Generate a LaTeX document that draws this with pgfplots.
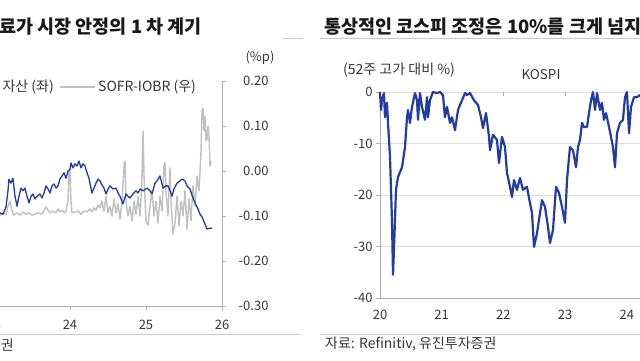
\documentclass[border=0pt]{standalone}
\usepackage{fontspec}
\usepackage{pgfplots}
\pgfplotsset{compat=1.18}
\setmainfont{Noto Sans CJK KR}
\definecolor{kblue}{RGB}{35,60,160}
\definecolor{lgray}{RGB}{192,192,192}
\definecolor{axgray}{RGB}{175,175,175}
\definecolor{gridgray}{RGB}{222,222,222}
\definecolor{txt}{RGB}{55,55,55}
\definecolor{sepgray}{RGB}{200,200,200}

\begin{document}
\begin{tikzpicture}[x=1pt,y=1pt]
\useasboundingbox (0,0) rectangle (640,360);
\clip (0,0) rectangle (640,360);
\fill[white] (0,0) rectangle (640,360);

% ---------------- left chart ----------------
\begin{axis}[
  at={(-44pt,54pt)}, anchor=south west,
  scale only axis, width=266pt, height=225pt,
  xmin=22.5, xmax=26, ymin=-0.3, ymax=0.2,
  clip=false,
  axis x line*=bottom, axis y line*=right,
  axis line style={axgray, line width=0.8pt},
  tick style={axgray, line width=0.8pt},
  tick align=outside, major tick length=4pt,
  xtick={23,24,25,26},
  ytick={-0.3,-0.2,-0.1,0,0.1,0.2},
  yticklabels={-0.30,-0.20,-0.10,0.00,0.10,0.20},
  /pgf/number format/assume math mode=true,
  ticklabel style={font=\fontsize{13}{15}\selectfont, text=txt},
  yticklabel style={anchor=east, xshift=46pt},
  xticklabel style={yshift=-7pt},
]
\addplot[lgray, line width=1.4pt, line join=round] coordinates {
(22.947,-0.096) (23.013,-0.093) (23.079,-0.098) (23.118,-0.093) (23.158,-0.096)
(23.184,-0.078) (23.211,-0.067) (23.237,-0.089) (23.263,-0.098) (23.303,-0.093)
(23.342,-0.098) (23.382,-0.091) (23.421,-0.096) (23.461,-0.093) (23.500,-0.098)
(23.540,-0.096) (23.579,-0.093) (23.618,-0.096) (23.658,-0.089) (23.684,-0.080)
(23.711,-0.087) (23.737,-0.093) (23.776,-0.089) (23.816,-0.093) (23.842,-0.084)
(23.868,-0.091) (23.895,-0.087) (23.921,-0.093) (23.947,-0.089) (23.974,-0.067)
(23.987,0.000) (24.000,0.004) (24.013,-0.067) (24.026,-0.093) (24.066,-0.091)
(24.105,-0.089) (24.145,-0.096) (24.184,-0.089) (24.224,-0.091) (24.263,-0.084)
(24.289,-0.091) (24.316,-0.082) (24.342,-0.087) (24.368,-0.076) (24.395,-0.082)
(24.421,-0.067) (24.447,-0.089) (24.474,-0.056) (24.500,-0.093) (24.526,-0.078)
(24.553,-0.100) (24.579,-0.062) (24.605,-0.093) (24.632,-0.073) (24.658,-0.107)
(24.684,-0.067) (24.711,0.011) (24.724,0.022) (24.737,-0.067) (24.763,-0.100)
(24.789,-0.078) (24.816,-0.111) (24.842,-0.067) (24.868,-0.096) (24.895,-0.056)
(24.921,-0.100) (24.947,-0.022) (24.961,0.089) (24.974,-0.011) (25.000,-0.111)
(25.026,-0.120) (25.053,-0.078) (25.079,-0.044) (25.105,-0.100) (25.132,-0.067)
(25.158,-0.116) (25.184,-0.056) (25.211,-0.089) (25.237,0.011) (25.250,0.018)
(25.263,-0.044) (25.289,-0.100) (25.316,0.007) (25.329,-0.067) (25.355,-0.140)
(25.382,-0.116) (25.408,-0.056) (25.434,-0.122) (25.461,-0.067) (25.487,-0.100)
(25.513,-0.044) (25.540,-0.129) (25.566,-0.062) (25.592,-0.111) (25.618,-0.033)
(25.645,-0.078) (25.671,-0.011) (25.697,-0.044) (25.711,0.000) (25.724,0.044)
(25.737,0.133) (25.750,0.140) (25.763,0.089) (25.776,0.122) (25.790,0.067)
(25.803,0.071) (25.816,0.100) (25.829,0.078) (25.842,0.011) (25.855,0.022)
};
\addplot[kblue, line width=1.3pt, line join=round] coordinates {
(22.947,-0.100) (23.079,-0.093) (23.118,-0.096) (23.158,-0.080) (23.184,-0.044)
(23.197,-0.018) (23.224,-0.027) (23.250,-0.016) (23.276,-0.056) (23.303,-0.078)
(23.329,-0.056) (23.355,-0.038) (23.382,-0.044) (23.408,-0.038) (23.434,-0.056)
(23.461,-0.071) (23.487,-0.056) (23.513,-0.051) (23.540,-0.062) (23.566,-0.056)
(23.605,-0.051) (23.632,-0.060) (23.658,-0.049) (23.684,-0.033) (23.711,-0.040)
(23.737,-0.049) (23.763,-0.033) (23.790,-0.029) (23.816,-0.038) (23.842,-0.033)
(23.868,-0.018) (23.895,-0.011) (23.921,-0.004) (23.947,-0.016) (23.974,0.000)
(24.000,0.004) (24.013,0.018) (24.039,0.007) (24.066,0.016) (24.092,0.011)
(24.118,0.022) (24.145,0.007) (24.171,0.016) (24.197,0.011) (24.224,-0.004)
(24.250,-0.016) (24.263,-0.027) (24.289,-0.049) (24.316,-0.038) (24.342,-0.027)
(24.368,-0.018) (24.395,-0.022) (24.421,-0.031) (24.447,-0.038) (24.474,-0.051)
(24.500,-0.040) (24.526,-0.033) (24.566,-0.040) (24.605,-0.038) (24.632,-0.049)
(24.658,-0.056) (24.697,-0.073) (24.737,-0.051) (24.763,-0.056) (24.789,-0.060)
(24.829,-0.051) (24.868,-0.044) (24.895,-0.049) (24.921,-0.040) (24.961,-0.044)
(25.013,-0.038) (25.053,-0.044) (25.079,-0.051) (25.118,-0.027) (25.145,-0.022)
(25.184,-0.011) (25.224,-0.038) (25.263,-0.033) (25.289,-0.033) (25.316,-0.044)
(25.342,-0.056) (25.368,-0.040) (25.408,-0.027) (25.447,-0.022) (25.474,-0.018)
(25.513,-0.022) (25.540,-0.033) (25.579,-0.040) (25.618,-0.060) (25.645,-0.071)
(25.684,-0.084) (25.711,-0.096) (25.737,-0.102) (25.776,-0.118) (25.803,-0.129)
(25.842,-0.127) (25.868,-0.127)
};
\end{axis}

% ---------------- right chart ----------------
\begin{axis}[
  at={(380pt,62pt)}, anchor=south west,
  scale only axis, width=308.5pt, height=206pt,
  xmin=20, xmax=25, ymin=-40, ymax=0,
  clip=false,
  axis x line*=bottom, axis y line*=left,
  axis line style={axgray, line width=0.8pt},
  ymajorgrids, grid style={gridgray, line width=0.8pt},
  ytick={-40,-30,-20,-10,0},
  xtick={20,21,22,23,24},
  ytick style={axgray, line width=0.8pt},
  xtick style={draw=none},
  tick align=outside, major tick length=4pt,
  /pgf/number format/assume math mode=true,
  ticklabel style={font=\fontsize{13}{15}\selectfont, text=txt},
  xticklabel style={yshift=-5pt},
]
\pgfplotsinvokeforeach{21,22,23,24}{
  \draw[axgray, line width=0.8pt] (axis cs:#1,0) -- (axis cs:#1,-0.8);
}
\addplot[kblue, line width=2.2pt, line join=round] coordinates {
(20.000,0) (20.016,-3.5) (20.032,-1.6) (20.065,-0.2) (20.081,-4.9) (20.113,-2.1)
(20.130,-6.0) (20.162,-12.6) (20.194,-24.9) (20.211,-35.5) (20.243,-24.9)
(20.259,-19.0) (20.292,-16.5) (20.357,-14.6) (20.405,-10.7) (20.438,-4.9)
(20.454,-3.5) (20.486,-6.0) (20.519,-2.9) (20.567,-0.2) (20.600,-1.6)
(20.616,-5.4) (20.648,-0.2) (20.681,-2.9) (20.729,-5.4) (20.762,-1.0)
(20.778,-4.9) (20.810,-1.6) (20.859,0) (20.924,-0.2) (20.972,0)
(21.021,-0.6) (21.053,-4.9) (21.086,-2.9) (21.135,-6.0) (21.167,-4.9)
(21.216,-7.4) (21.264,-3.5) (21.329,-1.6) (21.378,-0.2) (21.410,-0.6)
(21.459,-0.2) (21.523,-1.6) (21.588,-2.5) (21.637,-4.9) (21.669,-7.0)
(21.718,-4.1) (21.767,-8.7) (21.783,-11.3) (21.831,-8.3) (21.896,-9.3)
(21.929,-13.8) (21.977,-8.7) (22.026,-10.7) (22.058,-15.7) (22.107,-18.4)
(22.139,-20.4) (22.172,-17.1) (22.220,-19.0) (22.269,-16.7) (22.318,-19.0)
(22.382,-18.4) (22.415,-20.6) (22.464,-23.5) (22.496,-30.1) (22.545,-27.4)
(22.593,-23.5) (22.626,-21.0) (22.674,-22.3) (22.723,-26.2) (22.755,-29.3)
(22.804,-26.8) (22.853,-18.4) (22.901,-19.6) (22.950,-22.3) (22.998,-25.4)
(23.031,-17.1) (23.079,-10.7) (23.128,-11.3) (23.177,-14.6) (23.209,-10.7)
(23.241,-9.3) (23.274,-6.0) (23.306,-6.8) (23.355,-6.8) (23.387,-4.1)
(23.420,-1.6) (23.452,0) (23.485,-3.5) (23.517,-0.2) (23.566,-3.5)
(23.598,-2.1) (23.630,-5.4) (23.663,-4.1) (23.712,-6.8) (23.744,-8.7)
(23.776,-10.7) (23.809,-14.6) (23.841,-8.0) (23.890,-6.0) (23.938,-5.4)
(23.971,-1.0) (24.003,0) (24.036,-8.0) (24.068,-2.9) (24.117,-1.0)
(24.165,-1.0) (24.214,-0.6) (24.263,0) (24.376,-0.6)
};
\end{axis}

% ---------------- texts ----------------
\node[anchor=west, inner sep=0, font=\fontsize{18.5}{20}\selectfont\bfseries, text=black!90] at (-1,333) {료가 시장 안정의 1 차 계기};
\node[anchor=west, inner sep=0, font=\fontsize{18.5}{20}\selectfont\bfseries, text=black!90] at (324,333) {통상적인 코스피 조정은 10\%를 크게 넘지};
\draw[sepgray, line width=0.8pt] (283,322) -- (303,322);
\draw[sepgray, line width=0.8pt] (320,322) -- (640,322);

\node[inner sep=0, font=\fontsize{13}{15}\selectfont, text=txt] at (260,302) {(\%p)};
\node[anchor=east, inner sep=0, font=\fontsize{14}{16}\selectfont, text=txt] at (54,273) {자산 (좌)};
\draw[lgray, line width=1.4pt] (60,273) -- (95,273);
\node[anchor=west, inner sep=0, font=\fontsize{14}{16}\selectfont, text=txt] at (98,273) {SOFR-IOBR (우)};

\node[anchor=west, inner sep=0, font=\fontsize{14}{16}\selectfont, text=txt] at (343,290) {(52주 고가 대비 \%)};
\node[inner sep=0, font=\fontsize{13.5}{15}\selectfont, text=txt] at (541,285) {KOSPI};

\draw[sepgray, line width=0.8pt] (0,26) -- (300,26);
\draw[sepgray, line width=0.8pt] (320,26) -- (640,26);
\node[anchor=east, inner sep=0, font=\fontsize{14}{16}\selectfont, text=txt] at (14,15) {유진투자증권};
\node[anchor=west, inner sep=0, font=\fontsize{14}{16}\selectfont, text=txt] at (325,16) {자료: Refinitiv, 유진투자증권};
\end{tikzpicture}
\end{document}
